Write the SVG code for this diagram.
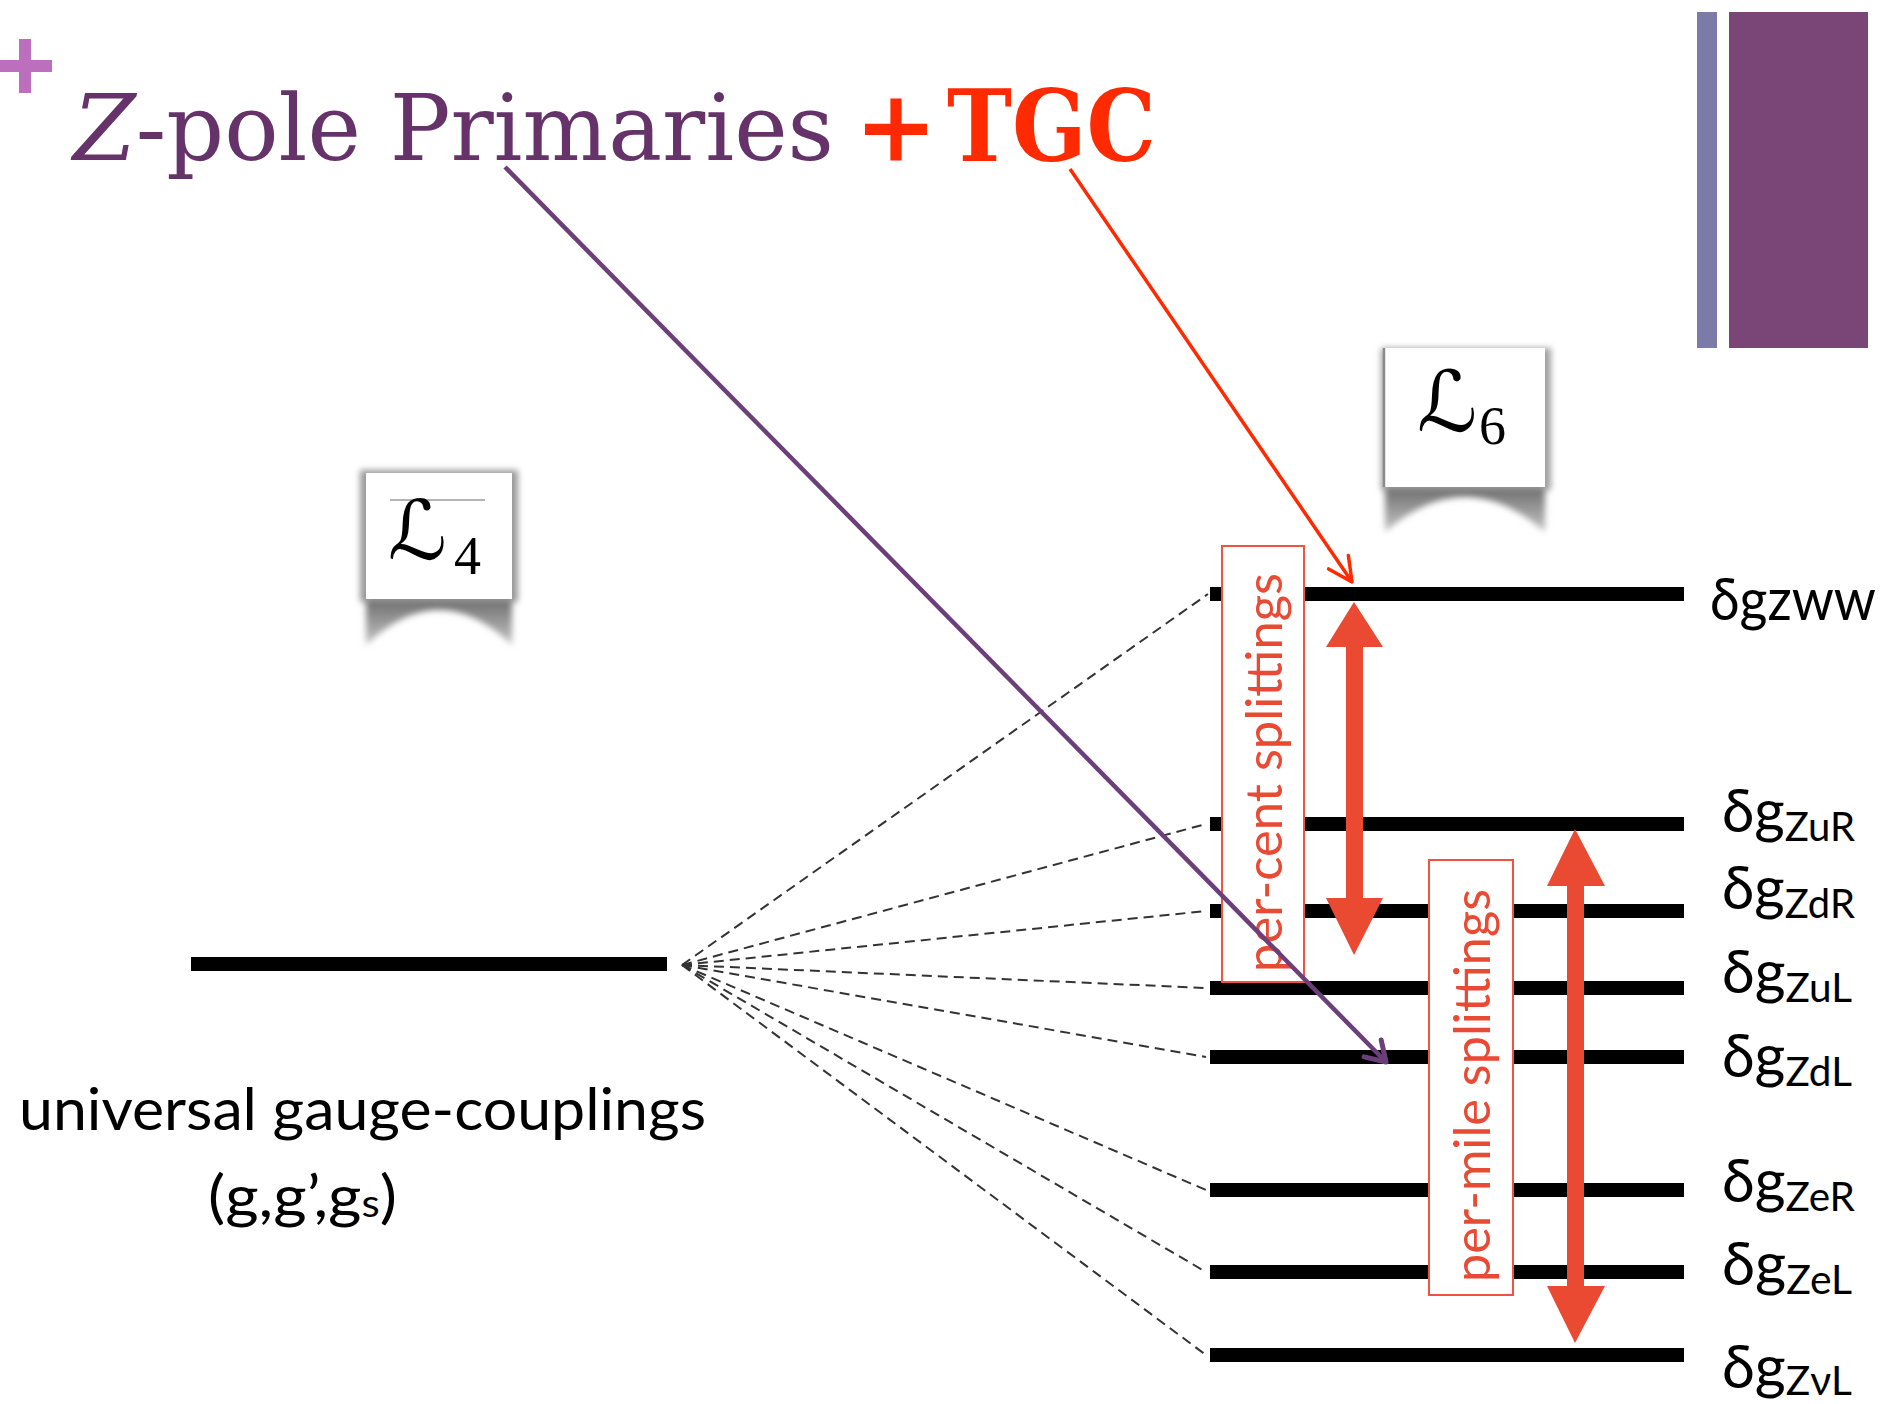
<svg xmlns="http://www.w3.org/2000/svg" width="1893" height="1404" viewBox="0 0 1893 1404">
<defs>
<style>
.lvl{stroke:#000;stroke-width:14;fill:none}
.dash{stroke:#333;stroke-width:2;stroke-dasharray:10 6;fill:none}
.lab{font-family:Lato,"Open Sans","DejaVu Sans",sans-serif;fill:#000}
.sub{font-size:41px}
.rbox{fill:#fff;stroke:#ef5440;stroke-width:2}
.rtxt{font-family:Lato,"Open Sans",sans-serif;font-size:50px;fill:#e94a34}
.dbl{fill:#ea4a32}
.lbox{fill:#fff}
.script{font-family:"DejaVu Serif","DejaVu Sans",serif;font-style:italic;fill:#000}
.idx{font-family:"Liberation Serif",serif;fill:#000}
</style>
<filter id="blur" x="-20%" y="-20%" width="140%" height="140%"><feGaussianBlur stdDeviation="3"/></filter>
<linearGradient id="shg" x1="0" y1="0" x2="0" y2="1">
<stop offset="0" stop-color="#6e6e6e"/><stop offset="1" stop-color="#c4c4c4"/>
</linearGradient>
<marker id="ahRed" markerUnits="userSpaceOnUse" markerWidth="40" markerHeight="40" viewBox="-30 -20 40 40" refX="0" refY="0" orient="auto">
<path d="M-24,-12 L0,0 L-24,12" fill="none" stroke="#ff2a00" stroke-width="3.5" stroke-linecap="round" stroke-linejoin="round"/>
</marker>
<marker id="ahPur" markerUnits="userSpaceOnUse" markerWidth="40" markerHeight="40" viewBox="-30 -20 40 40" refX="0" refY="0" orient="auto">
<path d="M-19,-12 L0,0 L-19,12" fill="none" stroke="#6d3f7a" stroke-width="5" stroke-linecap="round" stroke-linejoin="round"/>
</marker>
</defs>
<rect width="1893" height="1404" fill="#fff"/>

<g id="decor">
<rect x="19" y="39" width="12" height="54" fill="#bb6fbd"/>
<rect x="0" y="60" width="52" height="12" fill="#bb6fbd"/>
<rect x="1697" y="12" width="20" height="336" fill="#7b7aa9"/>
<rect x="1729" y="12" width="139" height="336" fill="#7a4577"/>
</g>

<g id="title">
<text x="73" y="160" font-family="'DejaVu Serif',serif" font-size="92" fill="#65336a" textLength="761" lengthAdjust="spacingAndGlyphs"><tspan font-style="italic">Z</tspan>-pole Primaries</text>
<text x="896" y="161" font-family="'DejaVu Serif',serif" font-weight="bold" font-size="99" fill="#ff2a00" text-anchor="middle">+</text>
<text x="947" y="161" font-family="'DejaVu Serif',serif" font-weight="bold" font-size="99" fill="#ff2a00" textLength="209" lengthAdjust="spacingAndGlyphs">TGC</text>
</g>

<g id="L4">
<rect x="360" y="470" width="158" height="132" fill="#9a9a9a" filter="url(#blur)"/>
<path d="M366,599 L512,599 L512,645 Q439,575 366,645 Z" fill="url(#shg)" filter="url(#blur)"/>
<rect class="lbox" x="366" y="473" width="146" height="126"/>
<line x1="390" y1="500" x2="485" y2="500" stroke="#9a9a9a" stroke-width="1.5"/>
<text class="script" x="388" y="559" font-size="82">ℒ</text>
<text class="idx" x="454" y="574" font-size="54">4</text>
</g>

<g id="L6">
<rect x="1381" y="348" width="170" height="142" fill="#a0a0a0" filter="url(#blur)"/>
<path d="M1385,487 L1545,487 L1545,532 Q1465,462 1385,532 Z" fill="url(#shg)" filter="url(#blur)"/>
<rect class="lbox" x="1385" y="348" width="160" height="139"/>
<line x1="1384" y1="348" x2="1384" y2="487" stroke="#8a8a8a" stroke-width="2.5"/>
<text class="script" x="1417" y="431" font-size="84">ℒ</text>
<text class="idx" x="1479" y="444" font-size="54">6</text>
</g>

<g id="level-universal">
<line class="lvl" x1="191" y1="964" x2="667" y2="964"/>
<text class="lab" x="19" y="1130" font-size="58" textLength="687" lengthAdjust="spacingAndGlyphs">universal gauge-couplings</text>
<text class="lab" x="208" y="1217" font-size="58" textLength="189" lengthAdjust="spacingAndGlyphs">(g,g’,g<tspan font-size="38">s</tspan>)</text>
</g>

<g id="connectors">
<line class="dash" x1="682" y1="965" x2="1208" y2="594"/>
<line class="dash" x1="682" y1="965" x2="1206" y2="824"/>
<line class="dash" x1="682" y1="965" x2="1206" y2="911"/>
<line class="dash" x1="682" y1="965" x2="1206" y2="988"/>
<line class="dash" x1="682" y1="965" x2="1206" y2="1057"/>
<line class="dash" x1="682" y1="965" x2="1206" y2="1190"/>
<line class="dash" x1="682" y1="965" x2="1206" y2="1272"/>
<line class="dash" x1="682" y1="965" x2="1206" y2="1355"/>
</g>

<g id="level-zww"><line class="lvl" x1="1210" y1="594" x2="1684" y2="594"/><text class="lab" x="1710" y="620" font-size="58" textLength="166" lengthAdjust="spacingAndGlyphs">δgzww</text></g>
<g id="level-zuR"><line class="lvl" x1="1210" y1="824" x2="1684" y2="824"/><text class="lab" x="1722" y="832" font-size="60" textLength="133" lengthAdjust="spacingAndGlyphs">δg<tspan class="sub" dy="9">ZuR</tspan></text></g>
<g id="level-zdR"><line class="lvl" x1="1210" y1="911" x2="1684" y2="911"/><text class="lab" x="1722" y="909" font-size="60" textLength="133" lengthAdjust="spacingAndGlyphs">δg<tspan class="sub" dy="9">ZdR</tspan></text></g>
<g id="level-zuL"><line class="lvl" x1="1210" y1="988" x2="1684" y2="988"/><text class="lab" x="1722" y="993" font-size="60" textLength="130" lengthAdjust="spacingAndGlyphs">δg<tspan class="sub" dy="9">ZuL</tspan></text></g>
<g id="level-zdL"><line class="lvl" x1="1210" y1="1057" x2="1684" y2="1057"/><text class="lab" x="1722" y="1077" font-size="60" textLength="130" lengthAdjust="spacingAndGlyphs">δg<tspan class="sub" dy="9">ZdL</tspan></text></g>
<g id="level-zeR"><line class="lvl" x1="1210" y1="1190" x2="1684" y2="1190"/><text class="lab" x="1722" y="1202" font-size="60" textLength="133" lengthAdjust="spacingAndGlyphs">δg<tspan class="sub" dy="9">ZeR</tspan></text></g>
<g id="level-zeL"><line class="lvl" x1="1210" y1="1272" x2="1684" y2="1272"/><text class="lab" x="1722" y="1285" font-size="60" textLength="130" lengthAdjust="spacingAndGlyphs">δg<tspan class="sub" dy="9">ZeL</tspan></text></g>
<g id="level-zvL"><line class="lvl" x1="1210" y1="1355" x2="1684" y2="1355"/><text class="lab" x="1722" y="1388" font-size="60" textLength="130" lengthAdjust="spacingAndGlyphs">δg<tspan class="sub" dy="7">ZνL</tspan></text></g>

<g id="percent">
<rect class="rbox" x="1222" y="546" width="82" height="436"/>
<text class="rtxt" transform="translate(1282,972) rotate(-90)" textLength="399" lengthAdjust="spacingAndGlyphs">per-cent splittings</text>
<path class="dbl" d="M1354,602 L1383,647 L1363,647 L1363,898 L1383,898 L1354,955 L1326,898 L1346,898 L1346,647 L1326,647 Z"/>
</g>

<g id="permile">
<rect class="rbox" x="1429" y="860" width="84" height="435"/>
<text class="rtxt" transform="translate(1490,1282) rotate(-90)" textLength="393" lengthAdjust="spacingAndGlyphs">per-mile splittings</text>
<path class="dbl" d="M1575,829 L1605,886 L1584,886 L1584,1286 L1605,1286 L1575,1343 L1547,1286 L1567,1286 L1567,886 L1547,886 Z"/>
</g>

<g id="title-arrows">
<line x1="1070" y1="169" x2="1352" y2="582" stroke="#ff2a00" stroke-width="3.5" marker-end="url(#ahRed)"/>
<line x1="505" y1="167" x2="1386" y2="1062" stroke="#6d3f7a" stroke-width="4.5" marker-end="url(#ahPur)"/>
</g>
</svg>
